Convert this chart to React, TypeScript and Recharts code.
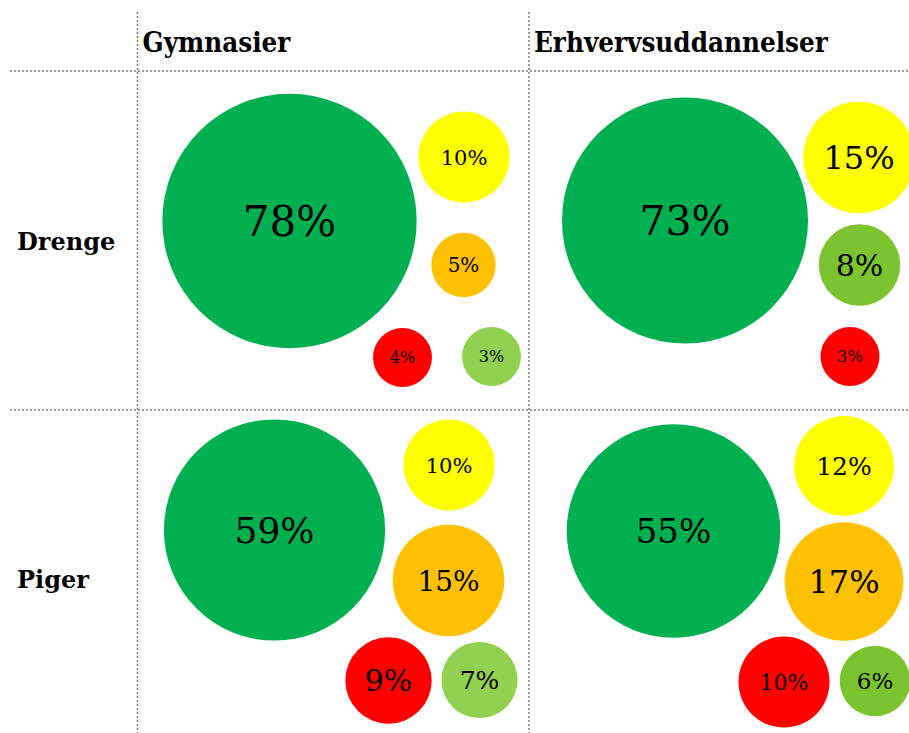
import { ScatterChart, Scatter, XAxis, YAxis, ZAxis, ReferenceLine } from "recharts";

const W = 909;
const H = 733;

const columns = ["Gymnasier", "Erhvervsuddannelser"];
const rows = ["Drenge", "Piger"];

// share in percent, bubble position inside its cell, answer colour key
const gymDrengeShare = [78, 10, 5, 4, 3];
const gymDrengeX = [152, 326.5, 326, 265, 354];
const gymDrengeY = [150, 86, 194, 286.5, 285.5];
const gymDrengeTone = ["green", "yellow", "orange", "red", "lime"];

const erhvDrengeShare = [73, 15, 8, 3];
const erhvDrengeX = [156, 330, 330.5, 321];
const erhvDrengeY = [149.5, 86.5, 194, 285.5];
const erhvDrengeTone = ["green", "yellow", "lime2", "red"];

const gymPigerShare = [59, 10, 15, 9, 7];
const gymPigerX = [137, 311.5, 311, 251, 342];
const gymPigerY = [120, 55, 170.5, 270.5, 270];
const gymPigerTone = ["green", "yellow", "orange", "red", "lime"];

const erhvPigerShare = [55, 12, 17, 10, 6];
const erhvPigerX = [144.5, 315, 315, 255, 346];
const erhvPigerY = [121, 56, 171.5, 272, 271];
const erhvPigerTone = ["green", "yellow", "orange", "red", "lime2"];

// styling
const palette: Record<string, string> = {
  green: "#00B050",
  yellow: "#FFFF00",
  orange: "#FFC000",
  red: "#FF0000",
  lime: "#92D050",
  lime2: "#7CC42F",
};
const labelFonts = [
  [42, 21, 20, 16, 16],
  [41, 32, 30, 16],
  [36, 21, 28, 30, 25],
  [34, 25, 32, 22, 23],
];
const colX = [137.5, 529];
const rowY = [71, 410];
const MIN_R = 29.5;
const serif = "'DejaVu Serif', serif";

const cells = [
  { col: 0, row: 0, share: gymDrengeShare, x: gymDrengeX, y: gymDrengeY, tone: gymDrengeTone },
  { col: 1, row: 0, share: erhvDrengeShare, x: erhvDrengeX, y: erhvDrengeY, tone: erhvDrengeTone },
  { col: 0, row: 1, share: gymPigerShare, x: gymPigerX, y: gymPigerY, tone: gymPigerTone },
  { col: 1, row: 1, share: erhvPigerShare, x: erhvPigerX, y: erhvPigerY, tone: erhvPigerTone },
].map((c, ci) =>
  c.share.map((v, i) => ({
    x: colX[c.col] + c.x[i],
    y: rowY[c.row] + c.y[i],
    z: v,
    label: `${v}%`,
    fill: palette[c.tone[i]],
    font: labelFonts[ci][i],
  }))
);

const Bubble = (props: any) => {
  const { cx, cy, width, payload } = props;
  const r = Math.max(width / 2, MIN_R);
  return (
    <g>
      <circle cx={cx} cy={cy} r={r} fill={payload.fill} />
      <text
        x={cx}
        y={cy}
        dy="0.36em"
        textAnchor="middle"
        fontFamily={serif}
        fontSize={payload.font}
        fill="#000"
      >
        {payload.label}
      </text>
    </g>
  );
};

const grid = { stroke: "#7a7a7a", strokeWidth: 1.5, strokeDasharray: "2 2" };

export default function App() {
  return (
    <div style={{ position: "relative", width: W, height: H, background: "#fff" }}>
      <style>{"body{margin:0}"}</style>
      <ScatterChart width={W} height={H} margin={{ top: 0, right: 0, bottom: 0, left: 0 }}>
        <XAxis type="number" dataKey="x" domain={[0, W]} hide />
        <YAxis type="number" dataKey="y" domain={[0, H]} reversed hide />
        <ZAxis type="number" dataKey="z" domain={[0, 100]} range={[0, Math.PI * 14.4 * 14.4 * 100]} />
        {colX.map((x) => (
          <ReferenceLine key={`v${x}`} segment={[{ x, y: 12 }, { x, y: H }]} {...grid} />
        ))}
        {rowY.map((y) => (
          <ReferenceLine key={`h${y}`} segment={[{ x: 10, y }, { x: W, y }]} {...grid} />
        ))}
        {cells.map((data, i) => (
          <Scatter key={i} data={data} shape={Bubble} isAnimationActive={false} />
        ))}
      </ScatterChart>
      {columns.map((c, i) => (
        <div
          key={c}
          style={{
            position: "absolute",
            left: colX[i] + 5,
            top: 23,
            fontFamily: "'DejaVu Serif Condensed', serif",
            fontWeight: "bold",
            fontSize: 27.5,
            lineHeight: "38px",
          }}
        >
          {c}
        </div>
      ))}
      {rows.map((r, i) => (
        <div
          key={r}
          style={{
            position: "absolute",
            left: 17,
            top: [225, 563][i],
            fontFamily: serif,
            fontWeight: "bold",
            fontSize: 24,
            lineHeight: "34px",
          }}
        >
          {r}
        </div>
      ))}
    </div>
  );
}
